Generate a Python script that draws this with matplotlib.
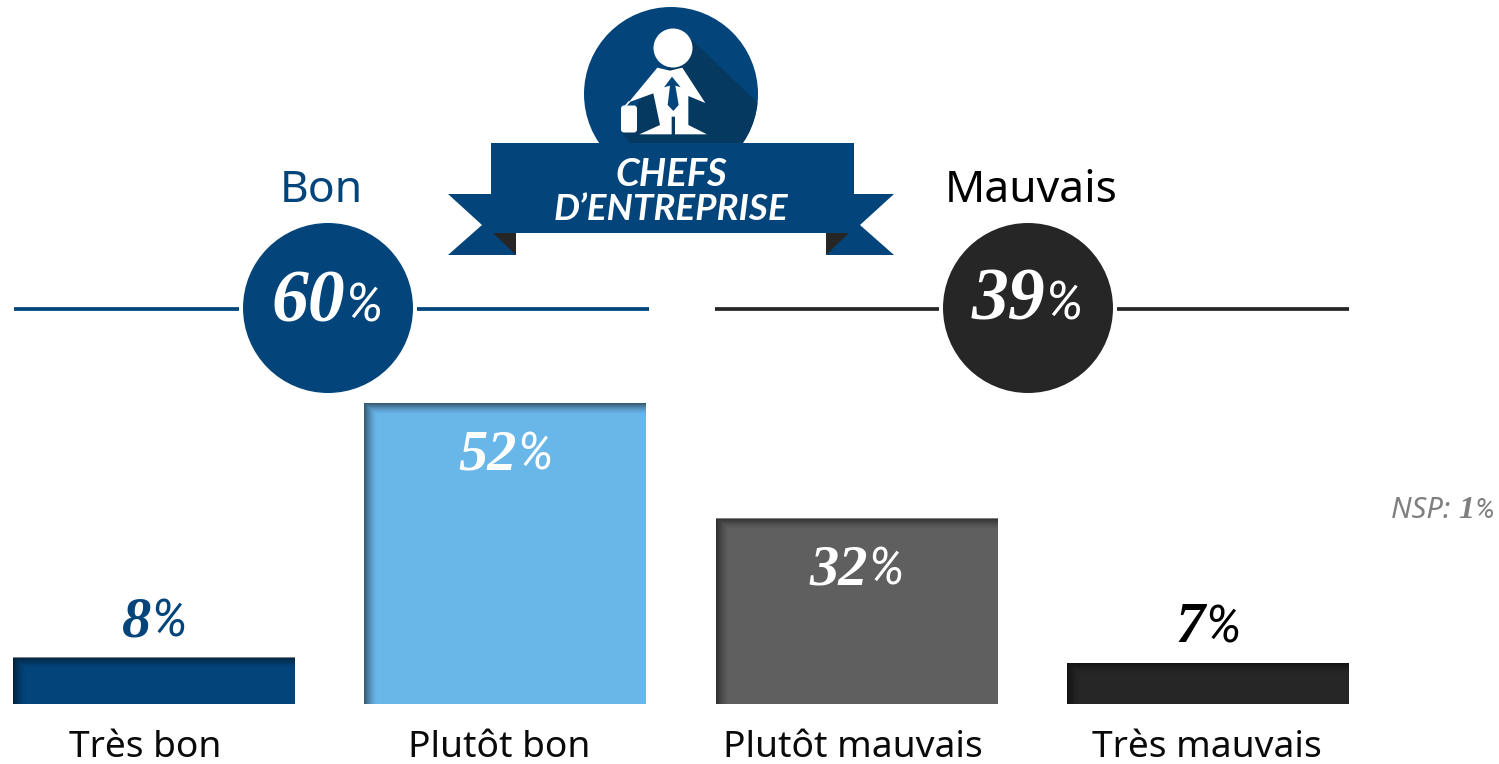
#!/usr/bin/env python3
"""Chefs d'entreprise: opinion bars with the Bon / Mauvais totals above."""

import numpy as np
import matplotlib
matplotlib.use('Agg')
import matplotlib.pyplot as plt
from matplotlib.patches import Circle, Polygon, FancyBboxPatch

categories = ['Très bon', 'Plutôt bon', 'Plutôt mauvais', 'Très mauvais']
values = [8, 52, 32, 7]
group_names = ['Bon', 'Mauvais']
group_totals = [60, 39]
title_lines = ['CHEFS', 'D’ENTREPRISE']
nsp_value = 1

BLUE = '#03457B'
LIGHT = '#69B6E9'
GREY = '#5F5F5F'
DARK = '#262626'
SHADOW = '#06395F'
bar_colors = [BLUE, LIGHT, GREY, DARK]

W, H = 1499, 764
SERIF = 'Liberation Serif'
PCT_FONT = 'Roboto'
LABEL_FONT = 'Noto Sans'

fig = plt.figure(figsize=(W / 100, H / 100), dpi=100, facecolor='white')

# bars axes: y in percent, baseline at 704 px, 5.79 px per point
BASE_PX = 704
PX_PER_PCT = 301 / 52
STEP = 351.33
FIRST = 154
ax = fig.add_axes([0, (H - BASE_PX) / H, 1, BASE_PX / H])
ax.set_xlim(-FIRST / STEP, (W - FIRST) / STEP)
ax.set_ylim(0, BASE_PX / PX_PER_PCT)
ax.axis('off')

# overlay in picture pixels
ov = fig.add_axes([0, 0, 1, 1], zorder=3)
ov.set_xlim(0, W)
ov.set_ylim(H, 0)
ov.axis('off')
ov.patch.set_alpha(0)


def pct_label(axis, x, y, number, color, size, pct_size, gap=-1):
    # digits bold italic, the sign thinner and narrower, on one baseline
    r = fig.canvas.get_renderer()
    a = axis.text(x, y, str(number), color=color, fontsize=size, family=SERIF,
                  style='italic', weight='bold', ha='left', va='baseline')
    b = axis.text(x, y, '%', color=color, fontsize=pct_size, family=PCT_FONT,
                  style='italic', ha='left', va='baseline')
    wa = a.get_window_extent(r).width
    wb = b.get_window_extent(r).width
    left = x - (wa + wb + gap) / 2
    a.set_x(left)
    b.set_x(left + wa + gap)


# bars with an inner shadow along the top and left edges
BAR_W = 282 / STEP
for i, (v, c) in enumerate(zip(values, bar_colors)):
    ax.bar(i, v, width=BAR_W, color=c, linewidth=0)
    h_px = int(round(v * PX_PER_PCT))
    w_px = 282
    rows = np.arange(h_px)[:, None]
    cols = np.arange(w_px)[None, :]
    top = np.clip(1 - rows / 11, 0, 1) ** 1.5
    left = np.clip(1 - cols / 13, 0, 1) ** 1.5
    shade = np.zeros((h_px, w_px, 4))
    shade[..., 3] = np.maximum(top, left) * 0.5
    ax.imshow(shade, extent=[i - BAR_W / 2, i + BAR_W / 2, 0, v], aspect='auto',
              interpolation='bilinear', zorder=2)
ax.set_xlim(-FIRST / STEP, (W - FIRST) / STEP)
ax.set_ylim(0, BASE_PX / PX_PER_PCT)

# value labels, inside for the tall bars and above for the short ones
label_colors = ['white' if v > 20 else ('black' if i == 3 else bar_colors[i])
                for i, v in enumerate(values)]
for i, v in enumerate(values):
    top_px = BASE_PX - v * PX_PER_PCT
    y = top_px + 66 if v > 20 else top_px - 21
    pct_label(ov, FIRST + i * STEP, y, v, label_colors[i], 42, 37)

# category names
for name, x in zip(categories, [145, 499, 853, 1207]):
    ov.text(x, 748, name, ha='center', va='center', fontsize=26.8,
            family=LABEL_FONT, color='#0a0a0a')

# totals: rule, circle, figure
group_cfg = [(BLUE, 328, 321, [(14, 239), (417, 649)], 322),
             (DARK, 1028, 1031, [(715, 939), (1117, 1349)], 319)]
for name, total, (c, cx, tx, segs, ty) in zip(group_names, group_totals, group_cfg):
    for x0, x1 in segs:
        ov.plot([x0, x1], [309, 309], color=c, lw=2.7, solid_capstyle='butt')
    ov.add_patch(Circle((cx, 308), 85, color=c, lw=0))
    pct_label(ov, cx - 1, ty, total, 'white', 53, 39)
    ov.text(tx, 191, name, ha='center', va='center', fontsize=32,
            family=LABEL_FONT, color=c if c == BLUE else 'black')

# badge: disc with the man, coordinates read on a 3x crop of the badge
def z(pts):
    return [(440 + x / 3, y / 3) for x, y in pts]


disc = Circle((671, 94), 87, color=BLUE, lw=0)
ov.add_patch(disc)
sh = Polygon(z([(757, 120), (975, 330), (975, 440), (580, 440), (545, 398), (600, 300)]),
             color=SHADOW, lw=0)
ov.add_patch(sh)
sh.set_clip_path(disc)

ov.add_patch(Circle((673, 48), 19.5, color='white', lw=0))
body = z([(652, 203), (566, 307), (640, 280), (660, 375), (598, 403), (695, 403),
          (695, 350), (705, 350), (705, 403), (801, 403), (745, 375), (745, 288),
          (796, 309), (727, 203), (690, 212)])
ov.add_patch(Polygon(body, color='white', lw=0))
tie = z([(696, 230), (672, 262), (690, 257), (683, 315), (700, 333), (716, 315),
         (706, 257), (722, 262)])
ov.add_patch(Polygon(tie, color=BLUE, lw=0))
ov.add_patch(FancyBboxPatch((622.5, 107), 13, 24, boxstyle='round,pad=1.5,rounding_size=3',
                            color='white', lw=0))
ov.plot([625.5, 629], [106, 102], color='white', lw=1.2)

# ribbon
ov.add_patch(Polygon([(448, 194), (491, 194), (491, 233), (516, 233), (516, 255),
                      (448, 255), (482, 225)], color=BLUE, lw=0))
ov.add_patch(Polygon([(894, 194), (854, 194), (854, 233), (826, 233), (826, 255),
                      (894, 255), (860, 225)], color=BLUE, lw=0))
ov.add_patch(Polygon([(491, 143), (854, 143), (854, 233), (491, 233)], color=BLUE, lw=0))
ov.add_patch(Polygon([(493, 233), (516, 233), (516, 255)], color=DARK, lw=0))
ov.add_patch(Polygon([(849, 233), (826, 233), (826, 255)], color=DARK, lw=0))
for line, y, size in zip(title_lines, [174, 210], [27.5, 26.5]):
    ov.text(671, y, line, ha='center', va='center', fontsize=size, color='white',
            family='Lato', style='italic', weight='bold')

# don't-know note
a = ov.text(1391, 510, 'NSP: ', ha='left', va='center', fontsize=21, color='#7F7F7F',
            family='Noto Sans', style='italic')
x = 1391 + a.get_window_extent(fig.canvas.get_renderer()).width
b = ov.text(x, 510, str(nsp_value), ha='left', va='center', fontsize=23, color='#7F7F7F',
            family=SERIF, style='italic', weight='bold')
x += b.get_window_extent(fig.canvas.get_renderer()).width
ov.text(x, 511, '%', ha='left', va='center', fontsize=20, color='#7F7F7F',
        family=PCT_FONT, style='italic')

fig.savefig('out.png', dpi=100)
